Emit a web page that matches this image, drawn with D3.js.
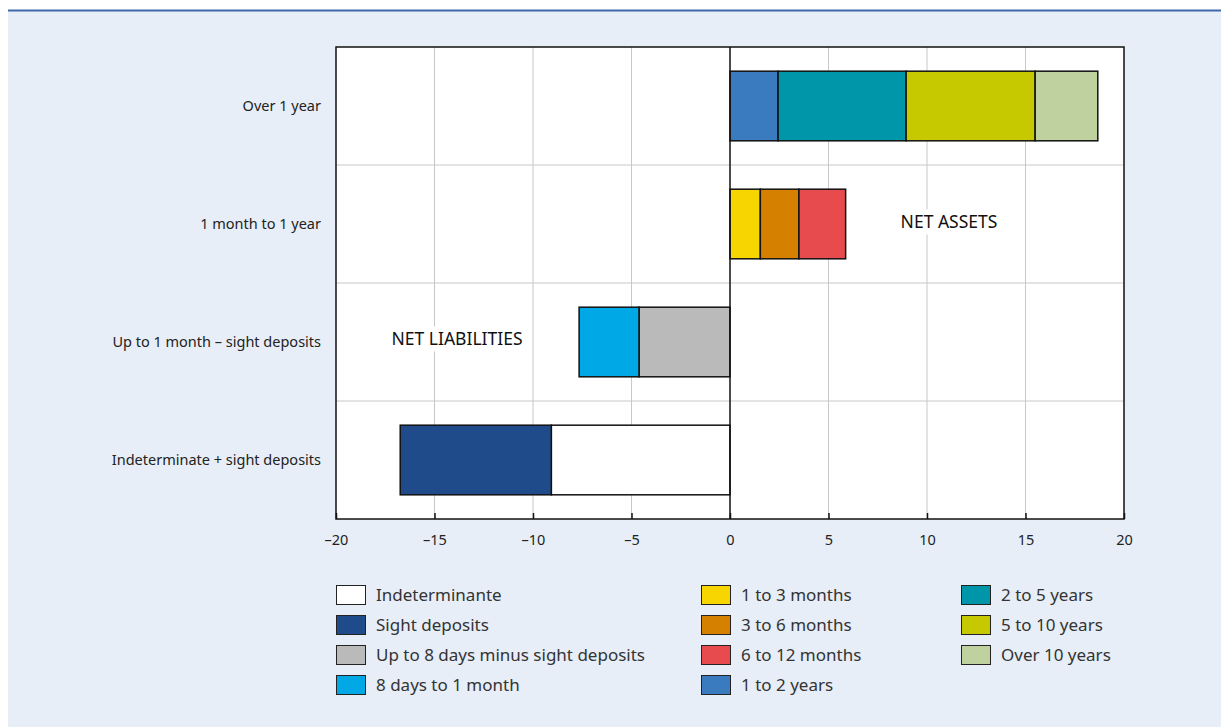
<!DOCTYPE html>
<html>
<head>
<meta charset="utf-8">
<script src="https://cdn.jsdelivr.net/npm/d3@7"></script>
<style>
  html, body { margin: 0; padding: 0; background: #ffffff; }
  svg { display: block; font-family: "Noto Sans", "Open Sans", sans-serif; }
</style>
</head>
<body>
<svg id="chart" width="1221" height="727"></svg>
<script>
// Maturity buckets (rows, top to bottom)
const categories = [
  "Over 1 year",
  "1 month to 1 year",
  "Up to 1 month \u2013 sight deposits",
  "Indeterminate + sight deposits"
];

// Series (legend order) and their colours
const seriesNames = [
  "Indeterminante",
  "Sight deposits",
  "Up to 8 days minus sight deposits",
  "8 days to 1 month",
  "1 to 3 months",
  "3 to 6 months",
  "6 to 12 months",
  "1 to 2 years",
  "2 to 5 years",
  "5 to 10 years",
  "Over 10 years"
];
const seriesColors = [
  "#ffffff", "#1f4b8b", "#bababa", "#00a9e6",
  "#f6d500", "#d68000", "#e84b4d", "#3a7bc0",
  "#0096aa", "#c6c900", "#bfd19f"
];

// Values per series, one per category (same order as categories)
const indeterminante   = [0, 0, 0, -9.07];
const sightDeposits    = [0, 0, 0, -7.67];
const upTo8Days        = [0, 0, -4.62, 0];
const days8To1Month    = [0, 0, -3.04, 0];
const months1To3       = [0, 1.54, 0, 0];
const months3To6       = [0, 1.96, 0, 0];
const months6To12      = [0, 2.37, 0, 0];
const years1To2        = [2.44, 0, 0, 0];
const years2To5        = [6.50, 0, 0, 0];
const years5To10       = [6.55, 0, 0, 0];
const over10Years      = [3.18, 0, 0, 0];

const xTicks = [-20, -15, -10, -5, 0, 5, 10, 15, 20];

const seriesValues = [
  indeterminante, sightDeposits, upTo8Days, days8To1Month,
  months1To3, months3To6, months6To12,
  years1To2, years2To5, years5To10, over10Years
];

// Table built for d3.stack
const table = categories.map((c, i) => {
  const row = { category: c };
  seriesNames.forEach((s, j) => { row[s] = seriesValues[j][i]; });
  return row;
});

const svg = d3.select("#chart");

// Panel background and top rule
svg.append("rect").attr("x", 8).attr("y", 10).attr("width", 1213).attr("height", 717)
  .attr("fill", "#e7eef7");
svg.append("line").attr("x1", 8).attr("x2", 1221).attr("y1", 10.5).attr("y2", 10.5)
  .attr("stroke", "#3d69a9").attr("stroke-width", 2);

const plotLeft = 336, plotRight = 1124, plotTop = 47, plotBottom = 519;

const x = d3.scaleLinear().domain([-20, 20]).range([plotLeft, plotRight]);
const y = d3.scaleBand().domain(categories).range([plotTop, plotBottom])
  .paddingInner(0.41).paddingOuter(0.205);

// Plot area
svg.append("rect").attr("x", plotLeft).attr("y", plotTop)
  .attr("width", plotRight - plotLeft).attr("height", plotBottom - plotTop).attr("fill", "#ffffff");

// Vertical gridlines
svg.append("g").selectAll("line").data(xTicks.filter(t => t !== 0 && Math.abs(t) !== 20))
  .join("line")
  .attr("x1", d => x(d)).attr("x2", d => x(d))
  .attr("y1", plotTop).attr("y2", plotBottom)
  .attr("stroke", "#c8c8c8").attr("stroke-width", 1);

// Horizontal row separators
const step = y.step();
svg.append("g").selectAll("line").data(d3.range(1, categories.length))
  .join("line")
  .attr("x1", plotLeft).attr("x2", plotRight)
  .attr("y1", d => plotTop + d * step).attr("y2", d => plotTop + d * step)
  .attr("stroke", "#c8c8c8").attr("stroke-width", 1);

// Annotation labels on white boxes
function note(text, cx, cy, w) {
  svg.append("rect").attr("x", cx - w / 2).attr("y", cy - 12.5)
    .attr("width", w).attr("height", 25).attr("fill", "#ffffff");
  svg.append("text").attr("x", cx).attr("y", cy).attr("dy", "0.35em")
    .attr("text-anchor", "middle").attr("font-size", 17.5).attr("fill", "#111")
    .text(text);
}
note("NET ASSETS", 949, 222, 116);
note("NET LIABILITIES", 457, 339, 150);

// Stacked bars
const stack = d3.stack().keys(seriesNames).offset(d3.stackOffsetDiverging);
const layers = stack(table);

svg.append("g").selectAll("g").data(layers).join("g")
  .attr("fill", (d, i) => seriesColors[i])
  .selectAll("rect")
  .data(d => d.filter(p => p[1] - p[0] !== 0))
  .join("rect")
  .attr("x", d => x(Math.min(d[0], d[1])))
  .attr("y", d => y(d.data.category))
  .attr("width", d => Math.abs(x(d[1]) - x(d[0])))
  .attr("height", y.bandwidth())
  .attr("stroke", "#111").attr("stroke-width", 1.5);

// Zero line
svg.append("line").attr("x1", x(0)).attr("x2", x(0)).attr("y1", plotTop).attr("y2", plotBottom)
  .attr("stroke", "#111").attr("stroke-width", 1.5);

// Frame
svg.append("rect").attr("x", plotLeft).attr("y", plotTop)
  .attr("width", plotRight - plotLeft).attr("height", plotBottom - plotTop)
  .attr("fill", "none").attr("stroke", "#111").attr("stroke-width", 1.5);

// X axis with inward ticks
const xAxis = d3.axisBottom(x).tickValues(xTicks).tickSizeInner(-6).tickSizeOuter(0)
  .tickPadding(16).tickFormat(d => d < 0 ? "\u2013" + Math.abs(d) : String(d));
const gx = svg.append("g").attr("transform", `translate(0,${plotBottom})`).call(xAxis);
gx.select(".domain").remove();
gx.selectAll(".tick line").attr("stroke", "#111").attr("stroke-width", 1.5);
gx.selectAll(".tick text").attr("font-size", 14.5).attr("fill", "#222")
  .attr("font-family", "\"Noto Sans\", sans-serif");

// Row labels
svg.append("g").selectAll("text").data(categories).join("text")
  .attr("x", 321).attr("y", d => y(d) + y.bandwidth() / 2).attr("dy", "0.35em")
  .attr("text-anchor", "end").attr("font-size", 14.5).attr("fill", "#222")
  .text(d => d);

// Legend: three columns
const legendCols = [
  { x: 336, items: [0, 1, 2, 3] },
  { x: 701, items: [4, 5, 6, 7] },
  { x: 961, items: [8, 9, 10] }
];
const lg = svg.append("g");
legendCols.forEach(col => {
  col.items.forEach((idx, r) => {
    const yy = 585 + r * 30;
    lg.append("rect").attr("x", col.x + 0.5).attr("y", yy + 0.5)
      .attr("width", 29).attr("height", 19)
      .attr("fill", seriesColors[idx]).attr("stroke", "#222").attr("stroke-width", 1);
    lg.append("text").attr("x", col.x + 40).attr("y", yy + 10).attr("dy", "0.35em")
      .attr("font-size", 17).attr("fill", "#333").text(seriesNames[idx]);
  });
});
</script>
</body>
</html>
